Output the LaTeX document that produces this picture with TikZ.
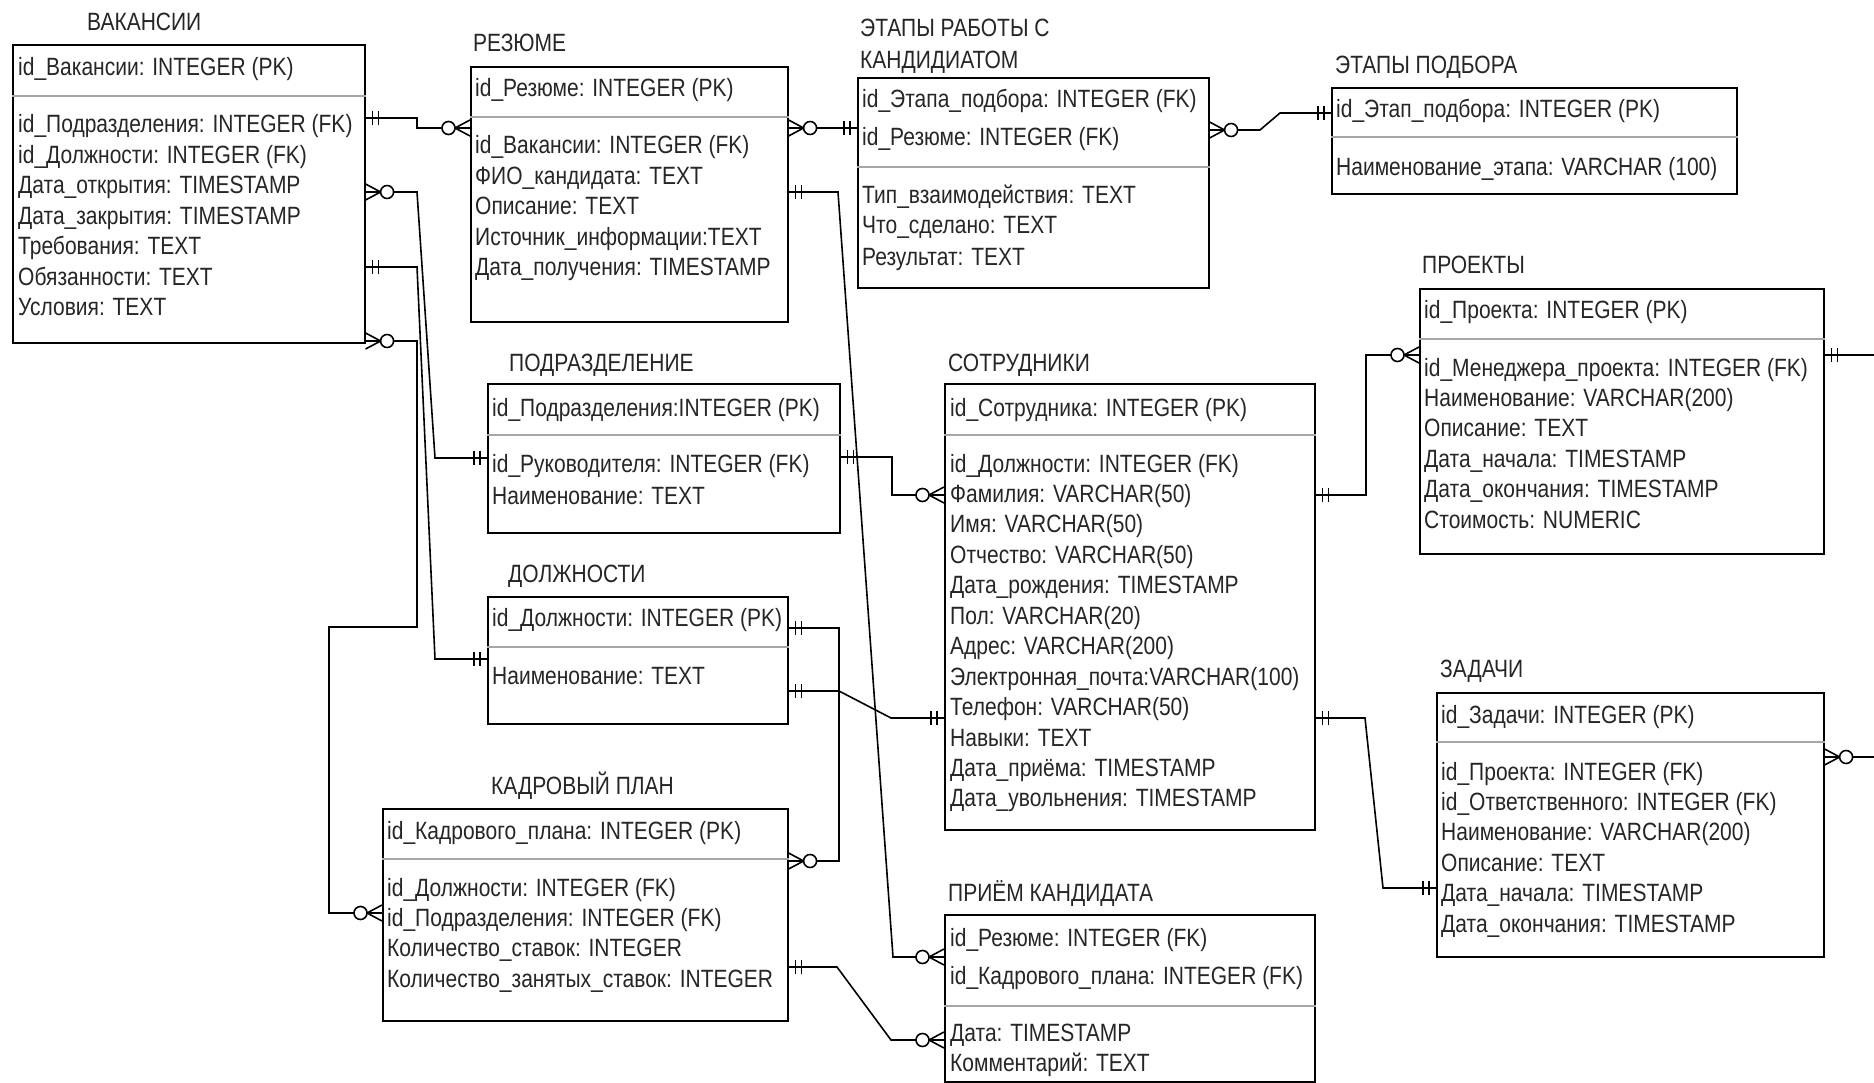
\documentclass[tikz,border=0pt]{standalone}
\usepackage{fontspec}
\setmainfont{Liberation Sans}[FakeStretch=0.84]
\begin{document}
\begin{tikzpicture}[x=1pt,y=-1pt,
  font=\fontsize{25}{30}\selectfont,
  tbl/.style={draw=black, line width=1.6pt, anchor=north west, inner sep=0pt},
  conn/.style={draw=black, line width=1.6pt, line join=miter},
  divl/.style={draw=black!35, line width=1.6pt},
  row/.style={anchor=base west, inner sep=0pt, text=black!85},
  ttl/.style={anchor=base west, inner sep=0pt, text=black!85},
  ermone/.pic={\draw[conn] (7,-7)--(7,7) (13,-7)--(13,7);},
  ermany/.pic={\draw[conn] (0,-8)--(15,0)--(0,8) (0,0)--(15,0);
               \draw[conn,fill=white] (21.5,0) circle[radius=6.5pt];}
]
\useasboundingbox (0,0) rectangle (1874,1083);
\fill[white] (0,0) rectangle (1874,1083);

% ---------- tables ----------
\node[tbl, minimum width=352pt, minimum height=298pt] (vac) at (12,44) {};
\node[tbl, minimum width=317pt, minimum height=255pt] (res) at (470,66) {};
\node[tbl, minimum width=351pt, minimum height=210pt] (etr) at (857,77) {};
\node[tbl, minimum width=405pt, minimum height=106pt] (etp) at (1331,87) {};
\node[tbl, minimum width=404pt, minimum height=265pt] (prj) at (1419,288) {};
\node[tbl, minimum width=352pt, minimum height=149pt] (pod) at (487,383) {};
\node[tbl, minimum width=300pt, minimum height=127pt] (dol) at (487,596) {};
\node[tbl, minimum width=405pt, minimum height=212pt] (kp) at (382,808) {};
\node[tbl, minimum width=370pt, minimum height=446pt] (sot) at (944,383) {};
\node[tbl, minimum width=370pt, minimum height=167pt] (pri) at (944,914) {};
\node[tbl, minimum width=387pt, minimum height=264pt] (zad) at (1436,692) {};

% dividers
\draw[divl] (vac.west |- 0,96) -- (vac.east |- 0,96);
\draw[divl] (res.west |- 0,117) -- (res.east |- 0,117);
\draw[divl] (etr.west |- 0,167) -- (etr.east |- 0,167);
\draw[divl] (etp.west |- 0,137) -- (etp.east |- 0,137);
\draw[divl] (prj.west |- 0,339) -- (prj.east |- 0,339);
\draw[divl] (pod.west |- 0,435) -- (pod.east |- 0,435);
\draw[divl] (dol.west |- 0,647) -- (dol.east |- 0,647);
\draw[divl] (kp.west |- 0,859) -- (kp.east |- 0,859);
\draw[divl] (sot.west |- 0,435) -- (sot.east |- 0,435);
\draw[divl] (pri.west |- 0,1006) -- (pri.east |- 0,1006);
\draw[divl] (zad.west |- 0,742) -- (zad.east |- 0,742);

% titles
\node[ttl] (t-vac) at (87,31) {ВАКАНСИИ};
\node[ttl] (t-res) at (473,52) {РЕЗЮМЕ};
\node[ttl] (t-etr1) at (860,37) {ЭТАПЫ РАБОТЫ С};
\node[ttl] (t-etr2) at (860,69) {КАНДИДИАТОМ};
\node[ttl] (t-etp) at (1335,74) {ЭТАПЫ ПОДБОРА};
\node[ttl] (t-prj) at (1422,274) {ПРОЕКТЫ};
\node[ttl] (t-pod) at (509,371) {ПОДРАЗДЕЛЕНИЕ};
\node[ttl] (t-dol) at (508,582) {ДОЛЖНОСТИ};
\node[ttl] (t-kp) at (491,794) {КАДРОВЫЙ ПЛАН};
\node[ttl] (t-sot) at (948,371) {СОТРУДНИКИ};
\node[ttl] (t-pri) at (948,901) {ПРИЁМ КАНДИДАТА};
\node[ttl] (t-zad) at (1440,677) {ЗАДАЧИ};

% ВАКАНСИИ
\node[row] (vac-pk) at (18,76) {id\_Вакансии: INTEGER (PK)};
\foreach \t [count=\i from 0] in {id\_Подразделения: INTEGER (FK),id\_Должности: INTEGER (FK),Дата\_открытия: TIMESTAMP,Дата\_закрытия: TIMESTAMP,Требования: TEXT,Обязанности: TEXT,Условия: TEXT}
  \node[row] (vac-r\i) at (18,{133+\i*30.5}) {\t};

% РЕЗЮМЕ
\node[row] (res-pk) at (475,97) {id\_Резюме: INTEGER (PK)};
\foreach \t [count=\i from 0] in {id\_Вакансии: INTEGER (FK),ФИО\_кандидата: TEXT,Описание: TEXT,Источник\_информации:TEXT,Дата\_получения: TIMESTAMP}
  \node[row] (res-r\i) at (475,{154+\i*30.5}) {\t};

% ЭТАПЫ РАБОТЫ С КАНДИДАТОМ
\node[row] (etr-k1) at (862,108) {id\_Этапа\_подбора: INTEGER (FK)};
\node[row] (etr-k2) at (862,146) {id\_Резюме: INTEGER (FK)};
\node[row] (etr-r0) at (862,204) {Тип\_взаимодействия: TEXT};
\node[row] (etr-r1) at (862,234) {Что\_сделано: TEXT};
\node[row] (etr-r2) at (862,266) {Результат: TEXT};

% ЭТАПЫ ПОДБОРА
\node[row] (etp-pk) at (1336,118) {id\_Этап\_подбора: INTEGER (PK)};
\node[row] (etp-r0) at (1336,176) {Наименование\_этапа: VARCHAR (100)};

% ПРОЕКТЫ
\node[row] (prj-pk) at (1424,319) {id\_Проекта: INTEGER (PK)};
\foreach \t [count=\i from 0] in {id\_Менеджера\_проекта: INTEGER (FK),Наименование: VARCHAR(200),Описание: TEXT,Дата\_начала: TIMESTAMP,Дата\_окончания: TIMESTAMP,Стоимость: NUMERIC}
  \node[row] (prj-r\i) at (1424,{376+\i*30.4}) {\t};

% ПОДРАЗДЕЛЕНИЕ
\node[row] (pod-pk) at (492,416) {id\_Подразделения:INTEGER (PK)};
\node[row] (pod-r0) at (492,472) {id\_Руководителя: INTEGER (FK)};
\node[row] (pod-r1) at (492,504) {Наименование: TEXT};

% ДОЛЖНОСТИ
\node[row] (dol-pk) at (492,626) {id\_Должности: INTEGER (PK)};
\node[row] (dol-r0) at (492,684) {Наименование: TEXT};

% КАДРОВЫЙ ПЛАН
\node[row] (kp-pk) at (387,839) {id\_Кадрового\_плана: INTEGER (PK)};
\foreach \t [count=\i from 0] in {id\_Должности: INTEGER (FK),id\_Подразделения: INTEGER (FK),Количество\_ставок: INTEGER,Количество\_занятых\_ставок: INTEGER}
  \node[row] (kp-r\i) at (387,{896+\i*30.4}) {\t};

% СОТРУДНИКИ
\node[row] (sot-pk) at (950,416) {id\_Сотрудника: INTEGER (PK)};
\foreach \t [count=\i from 0] in {id\_Должности: INTEGER (FK),Фамилия: VARCHAR(50),Имя: VARCHAR(50),Отчество: VARCHAR(50),Дата\_рождения: TIMESTAMP,Пол: VARCHAR(20),Адрес: VARCHAR(200),Электронная\_почта:VARCHAR(100),Телефон: VARCHAR(50),Навыки: TEXT,Дата\_приёма: TIMESTAMP,Дата\_увольнения: TIMESTAMP}
  \node[row] (sot-r\i) at (950,{472+\i*30.45}) {\t};

% ПРИЁМ КАНДИДАТА
\node[row] (pri-k1) at (950,946) {id\_Резюме: INTEGER (FK)};
\node[row] (pri-k2) at (950,984) {id\_Кадрового\_плана: INTEGER (FK)};
\node[row] (pri-r0) at (950,1041) {Дата: TIMESTAMP};
\node[row] (pri-r1) at (950,1071) {Комментарий: TEXT};

% ЗАДАЧИ
\node[row] (zad-pk) at (1441,723) {id\_Задачи: INTEGER (PK)};
\foreach \t [count=\i from 0] in {id\_Проекта: INTEGER (FK),id\_Ответственного: INTEGER (FK),Наименование: VARCHAR(200),Описание: TEXT,Дата\_начала: TIMESTAMP,Дата\_окончания: TIMESTAMP}
  \node[row] (zad-r\i) at (1441,{780+\i*30.4}) {\t};

% ---------- connectors ----------
\coordinate (prjout) at (1874,355);
\coordinate (zadout) at (1874,757);

\draw[conn] (vac.east |- 0,118) -- (417,118) -- (417,128) -- (res.west |- 0,128);
\draw[conn] (vac.east |- 0,192) -- (417,192) -- (435,458) -- (pod.west |- 0,458);
\draw[conn] (vac.east |- 0,267) -- (417,267) -- (435,659) -- (dol.west |- 0,659);
\draw[conn] (vac.east |- 0,341) -- (417,341) -- (417,627) -- (329,627) -- (329,913) -- (kp.west |- 0,913);
\draw[conn] (res.east |- 0,128) -- (etr.west |- 0,128);
\draw[conn] (res.east |- 0,192) -- (838,192) -- (893,957) -- (pri.west |- 0,957);
\draw[conn] (etr.east |- 0,130) -- (1260,130) -- (1280,113) -- (etp.west |- 0,113);
\draw[conn] (pod.east |- 0,457) -- (892,457) -- (892,495) -- (sot.west |- 0,495);
\draw[conn] (dol.east |- 0,628) -- (839,628) -- (839,861) -- (kp.east |- 0,861);
\draw[conn] (dol.east |- 0,691) -- (839,691) -- (891,718) -- (sot.west |- 0,718);
\draw[conn] (kp.east |- 0,967) -- (837,967) -- (891,1040) -- (pri.west |- 0,1040);
\draw[conn] (sot.east |- 0,495) -- (1366,495) -- (1366,355) -- (prj.west |- 0,355);
\draw[conn] (sot.east |- 0,718) -- (1365,718) -- (1383,888) -- (zad.west |- 0,888);
\draw[conn] (prj.east |- 0,355) -- (prjout);
\draw[conn] (zad.east |- 0,757) -- (zadout);

% ---------- end markers ----------
\pic at (vac.east |- 0,118) {ermone};
\pic[xscale=-1] at (res.west |- 0,128) {ermany};
\pic at (vac.east |- 0,192) {ermany};
\pic[xscale=-1] at (pod.west |- 0,458) {ermone};
\pic at (vac.east |- 0,267) {ermone};
\pic[xscale=-1] at (dol.west |- 0,659) {ermone};
\pic at (vac.east |- 0,341) {ermany};
\pic[xscale=-1] at (kp.west |- 0,913) {ermany};
\pic at (res.east |- 0,128) {ermany};
\pic[xscale=-1] at (etr.west |- 0,128) {ermone};
\pic at (res.east |- 0,192) {ermone};
\pic[xscale=-1] at (pri.west |- 0,957) {ermany};
\pic at (etr.east |- 0,130) {ermany};
\pic[xscale=-1] at (etp.west |- 0,113) {ermone};
\pic at (pod.east |- 0,457) {ermone};
\pic[xscale=-1] at (sot.west |- 0,495) {ermany};
\pic at (dol.east |- 0,628) {ermone};
\pic at (kp.east |- 0,861) {ermany};
\pic at (dol.east |- 0,691) {ermone};
\pic[xscale=-1] at (sot.west |- 0,718) {ermone};
\pic at (kp.east |- 0,967) {ermone};
\pic[xscale=-1] at (pri.west |- 0,1040) {ermany};
\pic at (sot.east |- 0,495) {ermone};
\pic[xscale=-1] at (prj.west |- 0,355) {ermany};
\pic at (sot.east |- 0,718) {ermone};
\pic[xscale=-1] at (zad.west |- 0,888) {ermone};
\pic at (prj.east |- 0,355) {ermone};
\pic at (zad.east |- 0,757) {ermany};
\end{tikzpicture}
\end{document}
